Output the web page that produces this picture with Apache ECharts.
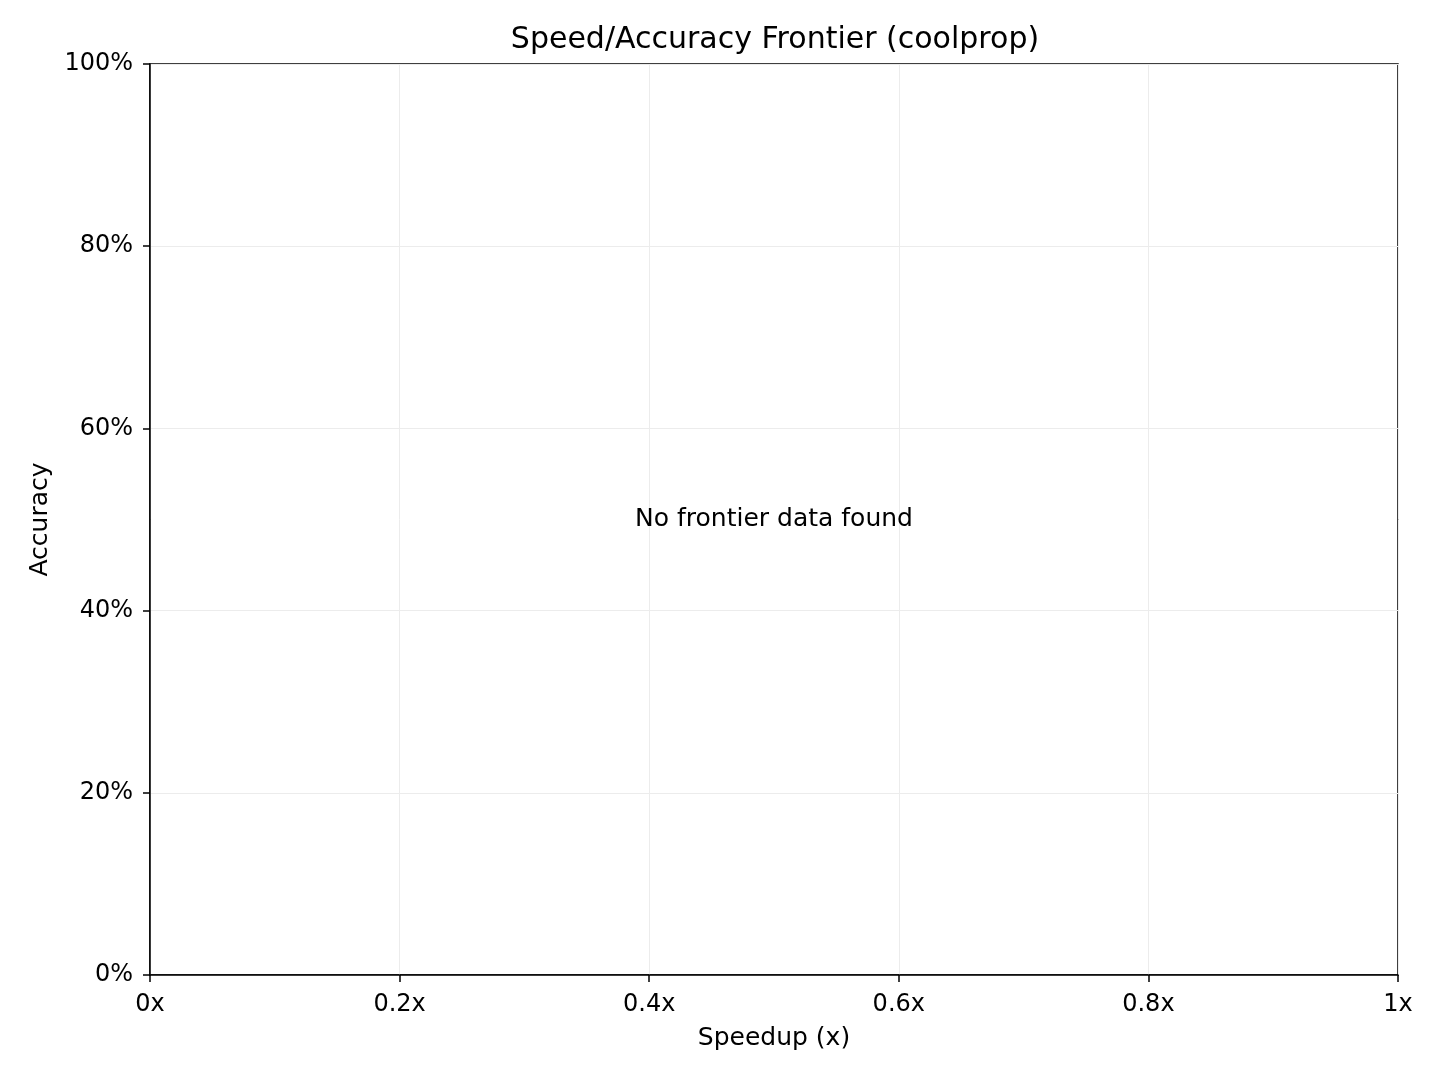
<!DOCTYPE html>
<html>
<head>
<meta charset="utf-8">
<title>Speed/Accuracy Frontier</title>
<script src="https://cdn.jsdelivr.net/npm/echarts@6/dist/echarts.min.js"></script>
<style>
	html, body { margin: 0; padding: 0; background: #fff; }
	#chart { width: 1440px; height: 1080px; }
</style>
</head>
<body>
<div id="chart"></div>
<script>
// data: nothing on the frontier, only the empty axes and a note
var frontierPoints = [];
var xTicks = [0, 0.2, 0.4, 0.6, 0.8, 1];
var yTicks = [0, 0.2, 0.4, 0.6, 0.8, 1];
var noteText = 'No frontier data found';
var notePos = [0.5, 0.5];

var font = 'DejaVu Sans';

function fmtX(v){
	return (Math.round(v * 10) / 10) + 'x';
}
function fmtY(v){
	return Math.round(v * 100) + '%';
}

var chart = echarts.init(document.getElementById('chart'));
chart.setOption({
	animation: false,
	backgroundColor: '#fff',
	title: {
		text: 'Speed/Accuracy Frontier (coolprop)',
		left: 770,
		textAlign: 'center',
		top: 20,
		textStyle: { fontFamily: font, fontSize: 30, fontWeight: 'normal', color: '#000' }
	},
	grid: {
		left: 150,
		top: 64,
		width: 1248,
		height: 911,
		show: true,
		borderColor: '#000',
		borderWidth: 1.5,
		backgroundColor: 'transparent'
	},
	xAxis: {
		type: 'value',
		min: xTicks[0],
		max: xTicks[xTicks.length - 1],
		interval: 0.2,
		name: 'Speedup (x)',
		nameLocation: 'middle',
		nameGap: 51,
		nameTextStyle: { fontFamily: font, fontSize: 25, color: '#000' },
		axisLine: { show: true, lineStyle: { color: '#000', width: 1.5 } },
		axisTick: { show: true, length: 7, lineStyle: { color: '#000', width: 1.5 } },
		axisLabel: { formatter: fmtX, fontFamily: font, fontSize: 24, color: '#000', margin: 18 },
		splitLine: { show: true, lineStyle: { color: '#ececec', width: 1 } }
	},
	yAxis: {
		type: 'value',
		min: yTicks[0],
		max: yTicks[yTicks.length - 1],
		interval: 0.2,
		name: 'Accuracy',
		nameLocation: 'middle',
		nameGap: 97,
		nameTextStyle: { fontFamily: font, fontSize: 25, color: '#000' },
		axisLine: { show: true, lineStyle: { color: '#000', width: 1.5 } },
		axisTick: { show: true, length: 7, lineStyle: { color: '#000', width: 1.5 } },
		axisLabel: { formatter: fmtY, fontFamily: font, fontSize: 24, color: '#000', margin: 17 },
		splitLine: { show: true, lineStyle: { color: '#ececec', width: 1 } }
	},
	series: [
		{
			name: 'frontier',
			type: 'line',
			data: frontierPoints
		},
		{
			name: 'note',
			type: 'scatter',
			symbolSize: 0,
			silent: true,
			data: [notePos],
			itemStyle: { opacity: 1 },
			label: {
				show: true,
				position: 'inside',
				formatter: noteText,
				fontFamily: font,
				fontSize: 25,
				color: '#000',
				opacity: 1
			}
		}
	]
});
</script>
</body>
</html>
